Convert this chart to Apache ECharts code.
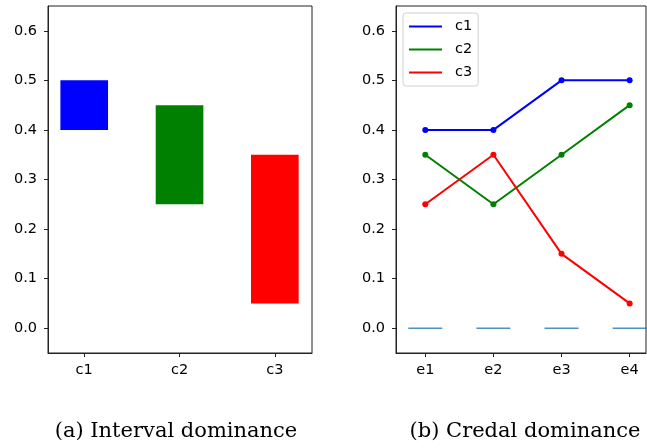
<!DOCTYPE html>
<html>
<head>
<meta charset="utf-8">
<script src="https://cdn.jsdelivr.net/npm/echarts@6/dist/echarts.min.js"></script>
<style>html,body{margin:0;padding:0;background:#fff;}#c{width:647px;height:448px;}</style>
</head>
<body>
<div id="c"></div>
<script>
const barCats = ['c1', 'c2', 'c3'];
const barLow = [0.40, 0.25, 0.05];
const barHigh = [0.50, 0.45, 0.35];
const barColors = ['#0000ff', '#008000', '#ff0000'];
const lineCats = ['e1', 'e2', 'e3', 'e4'];
const seriesNames = ['c1', 'c2', 'c3'];
const c1 = [0.40, 0.40, 0.50, 0.50];
const c2 = [0.35, 0.25, 0.35, 0.45];
const c3 = [0.25, 0.35, 0.15, 0.05];
const zeroLine = [0, 0, 0, 0];
const yTicks = [0.0, 0.1, 0.2, 0.3, 0.4, 0.5, 0.6];
const captions = ['(a) Interval dominance', '(b) Credal dominance'];

const chart = echarts.init(document.getElementById('c'), null, {renderer: 'canvas'});
const axisFont = {fontFamily: 'DejaVu Sans', fontSize: 14.5, color: '#000'};
const tickStyle = {lineStyle: {color: '#222', width: 1}};

function yAxis(gi) {
  return {
    type: 'value', gridIndex: gi, min: -0.05, max: 0.65,
    axisLine: {show: true, onZero: false, lineStyle: {color: '#222', width: 1}},
    axisTick: Object.assign({show: true, inside: false, length: 4, customValues: yTicks}, tickStyle),
    axisLabel: Object.assign({margin: 11, customValues: yTicks, formatter: v => Number(v).toFixed(1)}, axisFont),
    splitLine: {show: false}
  };
}
function xAxis(gi, cats, min, max) {
  const vals = cats.map((_, i) => i);
  return {
    type: 'value', gridIndex: gi, min: min, max: max,
    axisLine: {show: true, onZero: false, lineStyle: {color: '#222', width: 1}},
    axisTick: Object.assign({show: true, inside: false, length: 4, customValues: vals}, tickStyle),
    axisLabel: Object.assign({margin: 10, customValues: vals, formatter: v => cats[Math.round(v)] || ''}, axisFont),
    splitLine: {show: false}
  };
}

const lineData = [c1, c2, c3];
const option = {
  animation: false,
  backgroundColor: '#fff',
  grid: [
    {left: 48, top: 6, width: 264, height: 347, show: true, borderColor: '#222', borderWidth: 1, backgroundColor: 'transparent'},
    {left: 396, top: 6, width: 250, height: 347, show: true, borderColor: '#222', borderWidth: 1, backgroundColor: 'transparent'}
  ],
  xAxis: [xAxis(0, barCats, -0.38, 2.39), xAxis(1, lineCats, -0.43, 3.24)],
  yAxis: [yAxis(0), yAxis(1)],
  legend: {
    data: seriesNames,
    left: 403, top: 13, orient: 'vertical',
    icon: 'rect', itemWidth: 33, itemHeight: 2, itemGap: 0,
    padding: [2, 6, 2, 6],
    borderColor: '#d0d0d0', borderWidth: 1, borderRadius: 3,
    backgroundColor: 'rgba(255,255,255,0.8)',
    textStyle: {fontFamily: 'DejaVu Sans', fontSize: 14.5, color: '#000', lineHeight: 23, padding: [0, 0, 0, 8]}
  },
  series: [
    {
      type: 'custom', xAxisIndex: 0, yAxisIndex: 0,
      data: barCats.map((_, i) => [i, barLow[i], barHigh[i]]),
      encode: {x: 0, y: [1, 2]},
      renderItem: function (params, api) {
        const i = api.value(0);
        const lo = api.coord([i, api.value(1)]);
        const hi = api.coord([i, api.value(2)]);
        const w = api.size([0.5, 0])[0];
        return {type: 'rect', shape: {x: lo[0] - w / 2, y: hi[1], width: w, height: lo[1] - hi[1]}, style: {fill: barColors[i]}};
      }
    },
    {
      type: 'scatter', xAxisIndex: 1, yAxisIndex: 1, name: 'zero',
      symbol: 'rect', symbolSize: [34, 1.5],
      itemStyle: {color: '#1f77b4'},
      data: zeroLine.map((v, i) => [i, v]),
      z: 1
    }
  ].concat(seriesNames.map((n, k) => ({
    type: 'line', name: n, xAxisIndex: 1, yAxisIndex: 1,
    data: lineData[k].map((v, i) => [i, v]),
    symbol: 'circle', symbolSize: 6, showSymbol: true,
    lineStyle: {width: 2, color: barColors[k]},
    itemStyle: {color: barColors[k]},
    z: 3
  })))
};
option.graphic = captions.map((t, i) => ({
  type: 'text',
  x: i === 0 ? 176 : 525, y: 432,
  style: {text: t, fontFamily: 'DejaVu Serif', fontSize: 21, fill: '#000', align: 'center', verticalAlign: 'middle'}
}));
chart.setOption(option);
</script>
</body>
</html>
